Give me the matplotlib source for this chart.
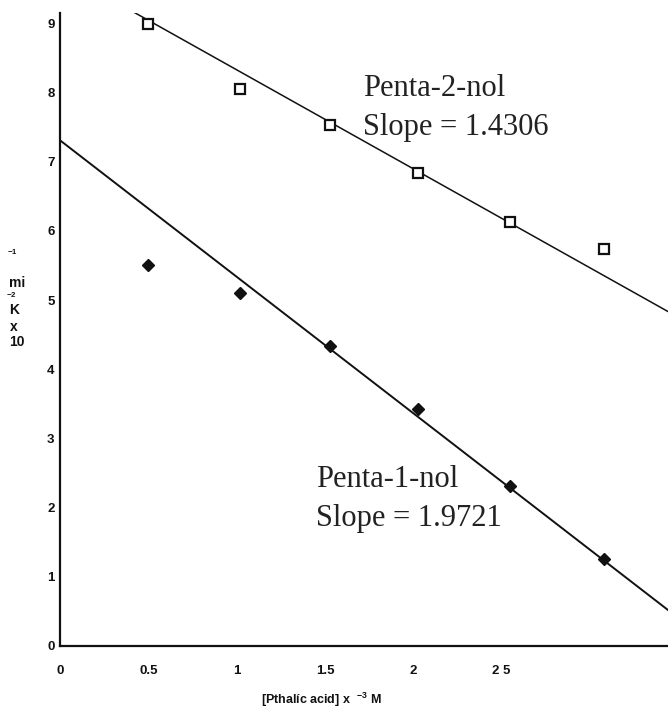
import matplotlib
matplotlib.use("Agg")
import matplotlib.pyplot as plt
import numpy as np

# Pthalic acid concentration (x 10^-3 M)
conc = [0.50, 1.02, 1.53, 2.03, 2.55, 3.08]

# K x 10^-2 mi^-1 for each alcohol
penta2_k = [8.99, 8.05, 7.53, 6.84, 6.13, 5.74]
penta1_k = [5.51, 5.10, 4.34, 3.42, 2.31, 1.26]

# Fitted straight lines: (slope, intercept)
penta2_fit = (-1.4306, 9.76)
penta1_fit = (-1.9721, 7.31)

x_ticks = [0, 0.5, 1, 1.5, 2, 2.5]
x_tick_labels = ["0", "0.5", "1", "1.5", "2", "2 5"]
y_ticks = [0, 1, 2, 3, 4, 5, 6, 7, 8, 9]

plt.rcParams["mathtext.fontset"] = "custom"
plt.rcParams["mathtext.bf"] = "Liberation Sans:bold"
plt.rcParams["mathtext.rm"] = "Liberation Sans:bold"

W, H = 668, 707
fig = plt.figure(figsize=(W / 100, H / 100), dpi=100)
ax = fig.add_axes([60 / W, 61 / H, 608 / W, 633 / H])

xmin, xmax = 0, 3.443
ax.set_xlim(xmin, xmax)
ax.set_ylim(0, 9.15)

xs = np.array([xmin, xmax])
ink = "#111111"
ax.plot(xs, penta2_fit[0] * xs + penta2_fit[1], color=ink, lw=1.1, zorder=2)
ax.plot(xs, penta1_fit[0] * xs + penta1_fit[1], color=ink, lw=1.4, zorder=2)

ax.plot(conc, penta2_k, ls="none", marker="s", ms=6.5, mfc="white",
        mec=ink, mew=1.6, zorder=3, clip_on=False)
ax.plot(conc, penta1_k, ls="none", marker="D", ms=6, mfc=ink,
        mec=ink, zorder=3, clip_on=False)

for side in ("top", "right"):
    ax.spines[side].set_visible(False)
for side in ("left", "bottom"):
    ax.spines[side].set_linewidth(1.6)
    ax.spines[side].set_color(ink)

tick_font = dict(family="Liberation Sans", weight="bold", size=9.5)
ax.set_xticks(x_ticks)
ax.set_xticklabels(x_tick_labels, fontdict=tick_font)
ax.set_yticks(y_ticks)
ax.set_yticklabels([str(v) for v in y_ticks], fontdict=tick_font)
ax.tick_params(axis="both", length=0, colors=ink)
ax.tick_params(axis="y", pad=4)
ax.tick_params(axis="x", pad=14)

ax.set_xlabel(r"[Pthalíc acid] x  $^{-3}$ M", family="Liberation Sans",
              weight="bold", size=9, color=ink)
ax.xaxis.set_label_coords(0.43, -0.07)

# stacked y-axis unit label: K x 10^-2 mi^-1
unit_parts = [(r"$^{-1}$", 12, 254, 8), ("mi", 17, 283, 10),
              (r"$^{-2}$", 11, 297, 8), ("K", 14, 310, 10),
              ("x", 14, 327, 10), ("10", 17, 342, 10)]
for txt, xpx, ypx, fs in unit_parts:
    fig.text(xpx / W, 1 - ypx / H, txt, family="Liberation Sans",
             weight="bold", size=fs, color=ink, ha="center", va="center")

serif = dict(family="Liberation Serif", size=22, color="#222222",
             ha="left", va="baseline")
ax.text(1.716, 7.95, "Penta-2-nol", **serif)
ax.text(1.716, 7.38, "Slope = 1.4306", **serif)
ax.text(1.45, 2.30, "Penta-1-nol", **serif)
ax.text(1.45, 1.73, "Slope = 1.9721", **serif)

fig.savefig("out.png", dpi=100)
